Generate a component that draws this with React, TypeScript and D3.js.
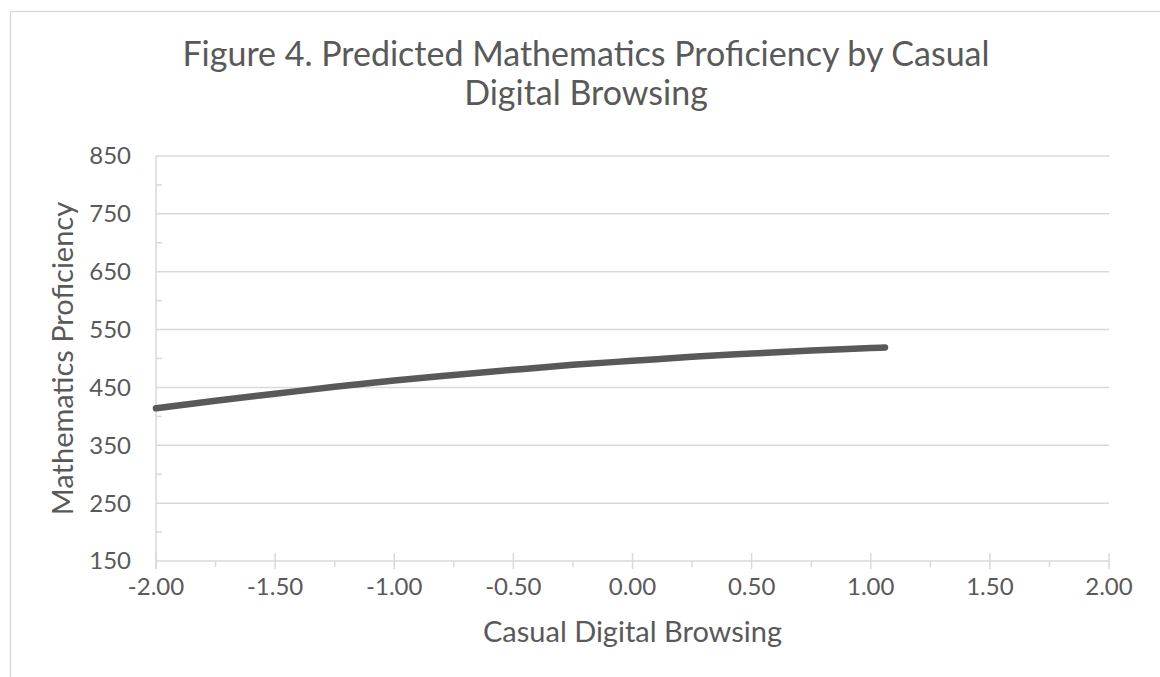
import React, { useEffect, useRef } from "react";
import * as d3 from "d3";

const titleLines = ["Figure 4. Predicted Mathematics Proficiency by Casual", "Digital Browsing"];
const xAxisTitle = "Casual Digital Browsing";
const yAxisTitle = "Mathematics Proficiency";
const xTicks = [-2, -1.5, -1, -0.5, 0, 0.5, 1, 1.5, 2];
const yTicks = [150, 250, 350, 450, 550, 650, 750, 850];
const browsing = [-2.0, -1.75, -1.5, -1.25, -1.0, -0.75, -0.5, -0.25, 0.0, 0.25, 0.5, 0.75, 1.0, 1.06];
const proficiency = [414, 427, 439, 451, 462, 471.5, 480.5, 489, 496, 503, 508.5, 514, 518, 519];

const W = 1160;
const H = 677;
const FONT = "Lato, 'Open Sans', sans-serif";
const TEXT = "#595959";
const GRID = "#d9d9d9";

export default function App() {
  const ref = useRef<SVGSVGElement>(null);
  useEffect(() => {
    const svg = d3.select(ref.current);
    svg.selectAll("*").remove();
    const left = 156, right = 1109, top = 156, bottom = 561;
    const x = d3.scaleLinear().domain([-2, 2]).range([left, right]);
    const y = d3.scaleLinear().domain([150, 850]).range([bottom, top]);

    svg.append("rect").attr("x", 0).attr("y", 0).attr("width", W).attr("height", H).attr("fill", "#fff");
    svg.append("rect").attr("x", 10.5).attr("y", 11.5).attr("width", 1152).attr("height", 720)
      .attr("fill", "#fff").attr("stroke", GRID).attr("stroke-width", 1.3);

    // gridlines
    svg.append("g").selectAll("line").data(yTicks.filter(v => v !== 150)).join("line")
      .attr("x1", left).attr("x2", right).attr("y1", d => y(d)).attr("y2", d => y(d))
      .attr("stroke", GRID).attr("stroke-width", 1.5);

    // y minor ticks
    const yMinor = yTicks.slice(0, -1).map(v => v + 50);
    svg.append("g").selectAll("line").data(yMinor).join("line")
      .attr("x1", left).attr("x2", left + 6).attr("y1", d => y(d)).attr("y2", d => y(d))
      .attr("stroke", GRID).attr("stroke-width", 1.5);

    // y axis line
    svg.append("line").attr("x1", left).attr("x2", left).attr("y1", top).attr("y2", bottom + 8)
      .attr("stroke", GRID).attr("stroke-width", 1.5);
    // x axis line
    svg.append("line").attr("x1", left).attr("x2", right).attr("y1", bottom).attr("y2", bottom)
      .attr("stroke", GRID).attr("stroke-width", 1.5);
    // x major ticks
    svg.append("g").selectAll("line").data(xTicks).join("line")
      .attr("x1", d => x(d)).attr("x2", d => x(d)).attr("y1", bottom - 8).attr("y2", bottom + 8)
      .attr("stroke", GRID).attr("stroke-width", 1.5);
    // x minor ticks
    const xMinor = xTicks.slice(0, -1).map(v => v + 0.25);
    svg.append("g").selectAll("line").data(xMinor).join("line")
      .attr("x1", d => x(d)).attr("x2", d => x(d)).attr("y1", bottom).attr("y2", bottom + 6)
      .attr("stroke", GRID).attr("stroke-width", 1.5);

    // tick labels
    svg.append("g").selectAll("text").data(yTicks).join("text")
      .attr("x", 131).attr("y", d => y(d)).attr("dy", "0.35em").attr("text-anchor", "end")
      .attr("font-family", FONT).attr("font-size", 24).attr("fill", TEXT).text(d => String(d));
    svg.append("g").selectAll("text").data(xTicks).join("text")
      .attr("x", d => x(d)).attr("y", 595).attr("text-anchor", "middle")
      .attr("font-family", FONT).attr("font-size", 24).attr("fill", TEXT).text(d => d.toFixed(2));

    // line
    const pts = browsing.map((b, i) => [b, proficiency[i]] as [number, number]);
    const line = d3.line<[number, number]>().x(d => x(d[0])).y(d => y(d[1])).curve(d3.curveMonotoneX);
    svg.append("path").attr("d", line(pts)).attr("fill", "none").attr("stroke", "#595959")
      .attr("stroke-width", 6.5).attr("stroke-linecap", "round").attr("stroke-linejoin", "round");

    // titles
    svg.append("g").selectAll("text").data(titleLines).join("text")
      .attr("x", 586).attr("y", (d, i) => 66 + i * 39).attr("text-anchor", "middle")
      .attr("font-family", FONT).attr("font-size", 34).attr("fill", TEXT).text(d => d);
    svg.append("text").attr("x", (left + right) / 2).attr("y", 642).attr("text-anchor", "middle")
      .attr("font-family", FONT).attr("font-size", 29).attr("fill", TEXT).text(xAxisTitle);
    svg.append("text").attr("transform", `translate(73,${(top + bottom) / 2}) rotate(-90)`)
      .attr("text-anchor", "middle")
      .attr("font-family", FONT).attr("font-size", 29).attr("fill", TEXT).text(yAxisTitle);
  }, []);
  return (
    <svg ref={ref} width={W} height={H} style={{ position: "absolute", left: 0, top: 0, display: "block" }} />
  );
}
